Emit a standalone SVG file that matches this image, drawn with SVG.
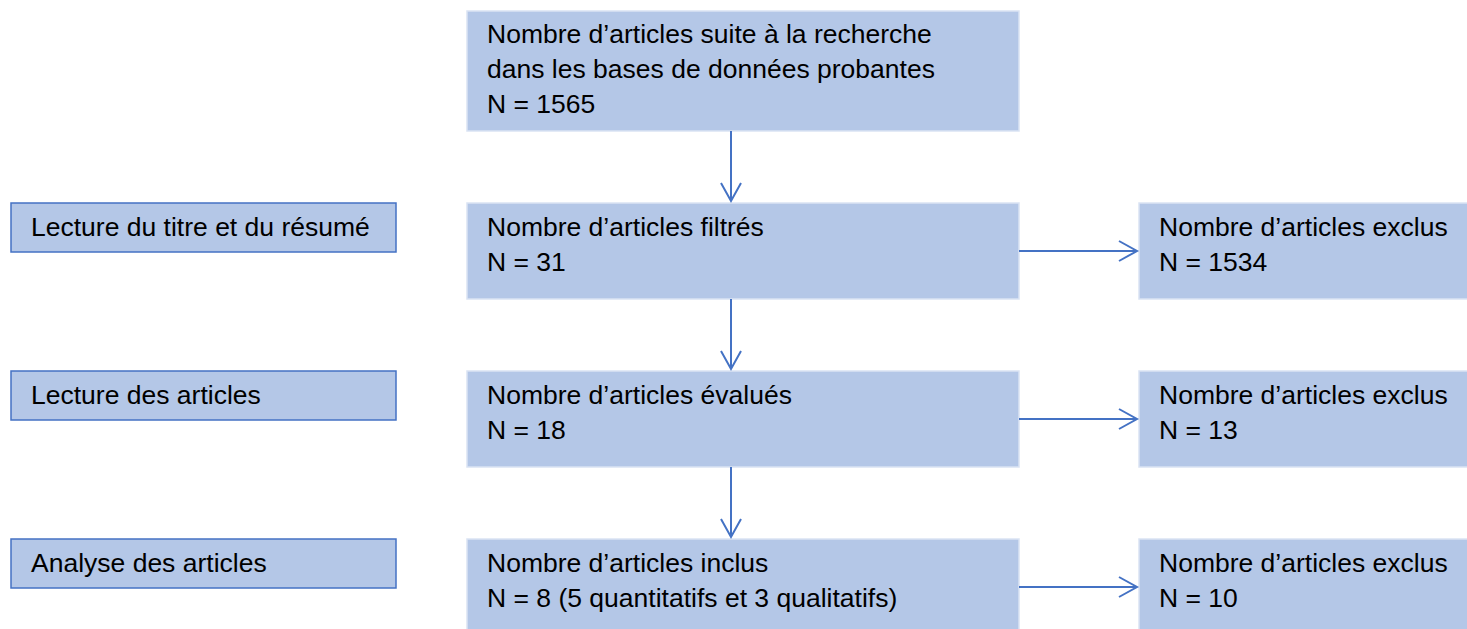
<svg xmlns="http://www.w3.org/2000/svg" width="1467" height="629" viewBox="0 0 1467 629">
<defs>
<style>
.box{fill:#B4C7E7;stroke:#DAE3F3;stroke-width:1.5}
.lbox{fill:#B4C7E7;stroke:#4472C4;stroke-width:1.5}
text{font-family:"Liberation Sans",Arial,sans-serif;font-size:26.5px;fill:#000}
.conn{stroke:#4472C4;stroke-width:2;fill:none}
.head{stroke:#4472C4;stroke-width:2;fill:none;stroke-linejoin:miter}
</style>
</defs>
<rect width="1467" height="629" fill="#fff"/>
<g id="n_search"><rect class="box" x="467" y="11" width="552" height="120"/>
<text x="487" y="43">Nombre d’articles suite à la recherche</text>
<text x="487" y="78">dans les bases de données probantes</text>
<text x="487" y="113">N = 1565</text></g>
<g id="l_titre"><rect class="lbox" x="11" y="203" width="385" height="49"/><text x="31" y="236">Lecture du titre et du résumé</text></g>
<g id="l_lecture"><rect class="lbox" x="11" y="371" width="385" height="49"/><text x="31" y="404">Lecture des articles</text></g>
<g id="l_analyse"><rect class="lbox" x="11" y="539" width="385" height="49"/><text x="31" y="572">Analyse des articles</text></g>
<g id="n_filtres"><rect class="box" x="467" y="203" width="552" height="96"/><text x="487" y="236">Nombre d’articles filtrés</text><text x="487" y="271">N = 31</text></g>
<g id="n_evalues"><rect class="box" x="467" y="371" width="552" height="96"/><text x="487" y="404">Nombre d’articles évalués</text><text x="487" y="439">N = 18</text></g>
<g id="n_inclus"><rect class="box" x="467" y="539" width="552" height="96"/><text x="487" y="572">Nombre d’articles inclus</text><text x="487" y="607">N = 8 (5 quantitatifs et 3 qualitatifs)</text></g>
<g id="n_excl1"><rect class="box" x="1139" y="203" width="340" height="96"/><text x="1159" y="236">Nombre d’articles exclus</text><text x="1159" y="271">N = 1534</text></g>
<g id="n_excl2"><rect class="box" x="1139" y="371" width="340" height="96"/><text x="1159" y="404">Nombre d’articles exclus</text><text x="1159" y="439">N = 13</text></g>
<g id="n_excl3"><rect class="box" x="1139" y="539" width="340" height="96"/><text x="1159" y="572">Nombre d’articles exclus</text><text x="1159" y="607">N = 10</text></g>
<g id="connectors">
<line class="conn" x1="731" y1="131" x2="731" y2="200"/><polyline class="head" points="721,183 731,201 741,183"/>
<line class="conn" x1="731" y1="299" x2="731" y2="368"/><polyline class="head" points="721,351 731,369 741,351"/>
<line class="conn" x1="731" y1="467" x2="731" y2="536"/><polyline class="head" points="721,519 731,537 741,519"/>
<line class="conn" x1="1019" y1="251" x2="1136" y2="251"/><polyline class="head" points="1119,241 1137,251 1119,261"/>
<line class="conn" x1="1019" y1="419" x2="1136" y2="419"/><polyline class="head" points="1119,409 1137,419 1119,429"/>
<line class="conn" x1="1019" y1="587" x2="1136" y2="587"/><polyline class="head" points="1119,577 1137,587 1119,597"/>
</g>
</svg>
